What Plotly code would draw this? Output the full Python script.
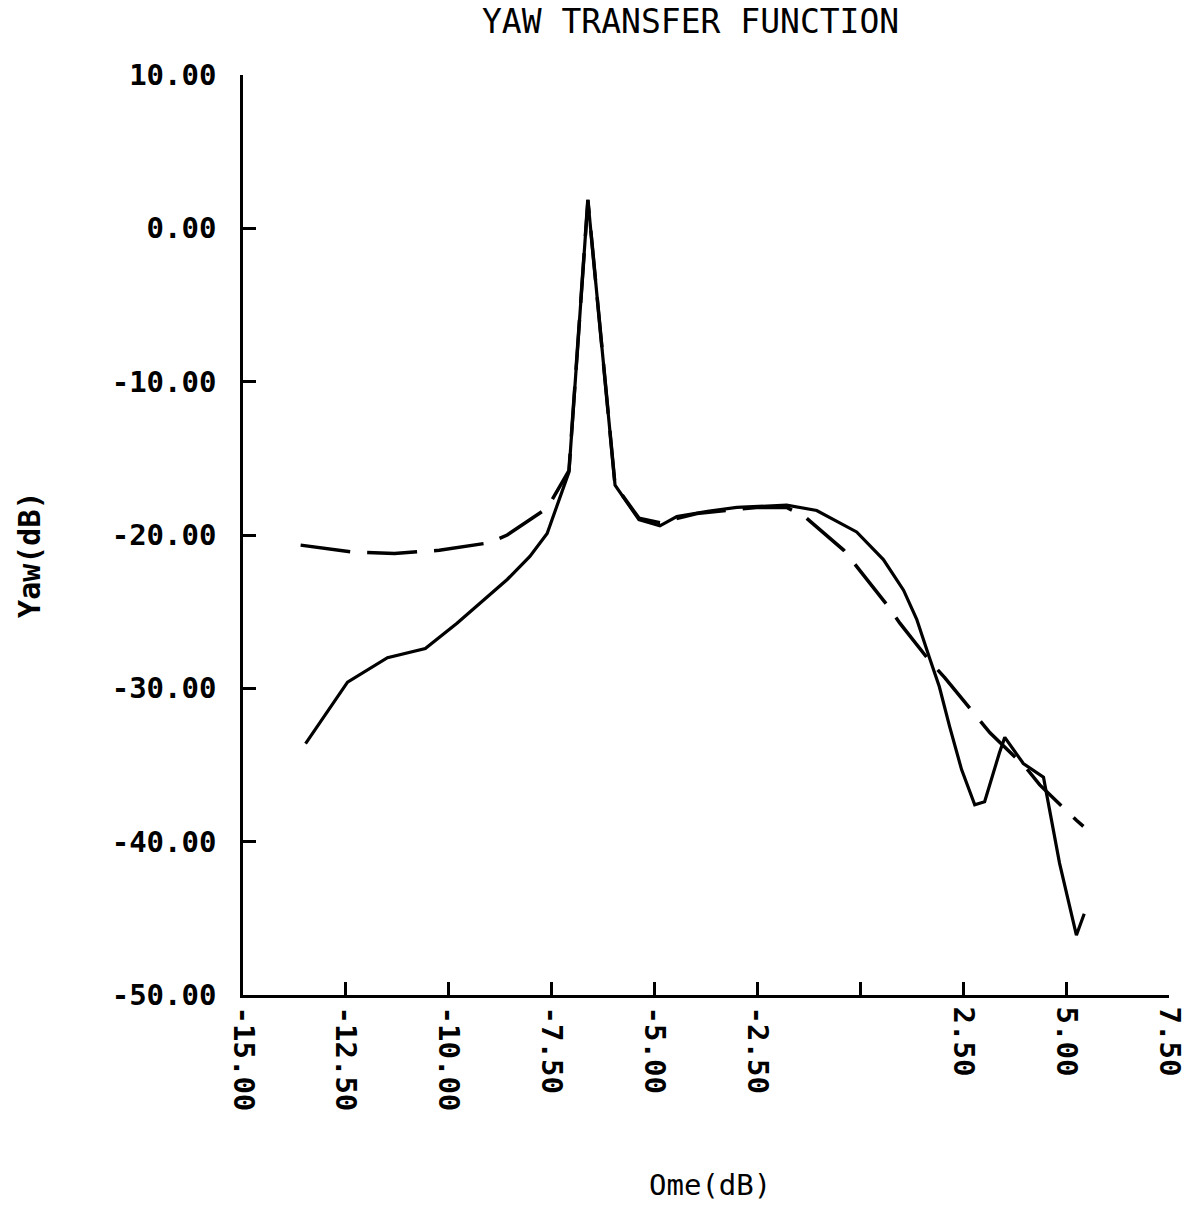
import plotly.graph_objects as go

# Measured response (solid)
meas_x = [-13.48, -12.46, -11.49, -10.57, -9.80, -8.58, -8.03, -7.61, -7.08, -6.62,
          -5.96, -5.38, -4.87, -4.46, -3.71, -3.00, -1.79, -1.06, -0.09, 0.56,
          1.05, 1.37, 1.68, 1.92, 2.17, 2.46, 2.78, 3.02, 3.38, 3.51,
          3.96, 4.45, 4.84, 5.25, 5.44]
meas_y = [-33.6, -29.6, -28.0, -27.4, -25.75, -22.9, -21.4, -19.9, -15.9, 1.85,
          -16.75, -19.0, -19.4, -18.8, -18.45, -18.2, -18.05, -18.4, -19.8, -21.6,
          -23.6, -25.5, -28.0, -29.9, -32.5, -35.3, -37.6, -37.4, -34.2, -33.2,
          -34.9, -35.8, -41.4, -46.1, -44.7]

# Model response (dashed)
model_x = [-13.60, -12.39, -11.32, -10.23, -9.00, -8.58, -7.61, -7.08, -6.62, -5.96,
           -5.38, -4.87, -3.97, -2.52, -1.79, -1.35, -0.40, -0.08, 0.69, 0.96,
           1.68, 2.05, 2.83, 3.15, 4.00, 4.36, 5.25, 5.42]
model_y = [-20.66, -21.1, -21.2, -21.0, -20.5, -20.0, -18.25, -15.8, 1.85, -16.75,
           -18.9, -19.2, -18.6, -18.2, -18.2, -18.8, -21.0, -22.1, -24.7, -25.75,
           -28.2, -29.3, -31.9, -32.9, -35.1, -36.3, -38.6, -39.0]

x_tickvals = [-15, -12.5, -10, -7.5, -5, -2.5, 0, 2.5, 5, 7.5]
x_ticktext = ["-15.00", "-12.50", "-10.00", "-7.50", "-5.00", "-2.50", "", "2.50", "5.00", "7.50"]
y_tickvals = [-50, -40, -30, -20, -10, 0, 10]
y_ticktext = ["-50.00", "-40.00", "-30.00", "-20.00", "-10.00", "0.00", "10.00"]

FONT = "DejaVu Sans Mono"
L, R, T, B = 243, 26, 75, 231
PW, PH = 1199 - L - R, 1226 - T - B

fig = go.Figure()
fig.add_trace(go.Scatter(x=model_x, y=model_y, mode="lines",
                         line=dict(color="black", width=3.5, dash="50px,17px"),
                         showlegend=False))
fig.add_trace(go.Scatter(x=meas_x, y=meas_y, mode="lines",
                         line=dict(color="black", width=3.2),
                         showlegend=False))

fig.update_layout(
    width=1199, height=1226,
    margin=dict(l=L, r=R, t=T, b=B),
    paper_bgcolor="white", plot_bgcolor="white",
    font=dict(family=FONT, color="black"),
    xaxis=dict(range=[-15, 7.5], tickvals=x_tickvals, ticktext=x_ticktext,
               tickangle=90, ticks="inside", ticklen=13, tickwidth=2.5, tickcolor="black",
               showline=True, linecolor="black", linewidth=2.5,
               showgrid=False, zeroline=False,
               tickfont=dict(family=FONT, size=29, color="black", weight="bold"),
               ticklabelstandoff=3),
    yaxis=dict(range=[-50, 10], tickvals=y_tickvals, ticktext=y_ticktext,
               ticks="inside", ticklen=13, tickwidth=2.5, tickcolor="black",
               showline=True, linecolor="black", linewidth=2.5,
               showgrid=False, zeroline=False,
               tickfont=dict(family=FONT, size=29, color="black", weight="bold"),
               ticklabelstandoff=18),
    annotations=[
        dict(text="YAW TRANSFER FUNCTION", xref="paper", yref="paper",
             x=(692 - L) / PW, y=1 + (T - 22) / PH, xanchor="center", yanchor="middle",
             showarrow=False, font=dict(family=FONT, size=33, color="black")),
        dict(text="Yaw(dB)", xref="paper", yref="paper",
             x=(28 - L) / PW, y=(1226 - B - 555) / PH, xanchor="center", yanchor="middle",
             textangle=-90, showarrow=False,
             font=dict(family=FONT, size=30, color="black", weight="bold")),
        dict(text="Ome(dB)", xref="paper", yref="paper",
             x=(712 - L) / PW, y=-(1185 - (1226 - B)) / PH, xanchor="center", yanchor="middle",
             showarrow=False, font=dict(family=FONT, size=29, color="black")),
    ],
)

fig.write_html("out.html")
